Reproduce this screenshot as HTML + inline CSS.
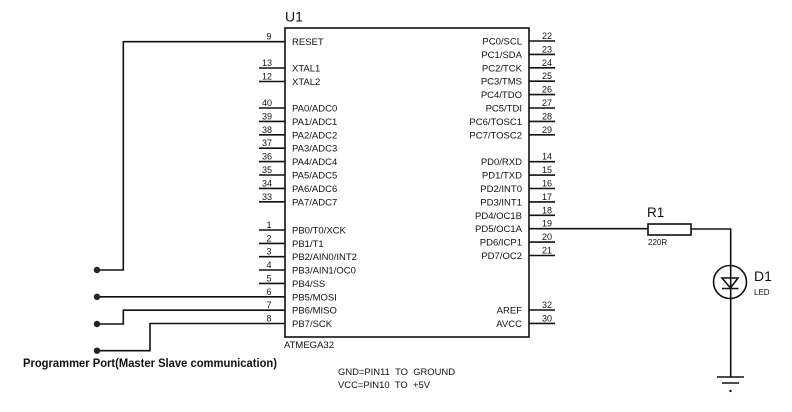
<!DOCTYPE html>
<html><head><meta charset="utf-8"><style>
html,body{margin:0;padding:0;background:#fff;}
svg{display:block;}
text{font-family:"Liberation Sans",Arial,sans-serif;fill:#111;}
.pl{font-size:9.5px;}
.pn{font-size:9px;}
</style></head><body>
<svg width="792" height="412" viewBox="0 0 792 412" xmlns="http://www.w3.org/2000/svg">
<rect width="792" height="412" fill="#fff"/>
<g stroke="#111" stroke-width="1.6" fill="none">
<rect x="285" y="28" width="244" height="309"/>
<line x1="259" y1="68" x2="285" y2="68"/>
<line x1="259" y1="81.5" x2="285" y2="81.5"/>
<line x1="259" y1="108" x2="285" y2="108"/>
<line x1="259" y1="121.4" x2="285" y2="121.4"/>
<line x1="259" y1="134.8" x2="285" y2="134.8"/>
<line x1="259" y1="148.2" x2="285" y2="148.2"/>
<line x1="259" y1="161.6" x2="285" y2="161.6"/>
<line x1="259" y1="175" x2="285" y2="175"/>
<line x1="259" y1="188.4" x2="285" y2="188.4"/>
<line x1="259" y1="201.8" x2="285" y2="201.8"/>
<line x1="259" y1="230" x2="285" y2="230"/>
<line x1="259" y1="243.4" x2="285" y2="243.4"/>
<line x1="259" y1="256.7" x2="285" y2="256.7"/>
<line x1="259" y1="270" x2="285" y2="270"/>
<line x1="259" y1="283.4" x2="285" y2="283.4"/>
<polyline points="285,41.7 123.3,41.7 123.3,270 97,270"/>
<polyline points="285,296.8 97,296.8"/>
<polyline points="285,310.2 123.3,310.2 123.3,324 97,324"/>
<polyline points="285,323.5 150,323.5 150,350.7 97,350.7"/>
<line x1="529" y1="41" x2="555" y2="41"/>
<line x1="529" y1="54.4" x2="555" y2="54.4"/>
<line x1="529" y1="67.8" x2="555" y2="67.8"/>
<line x1="529" y1="81.2" x2="555" y2="81.2"/>
<line x1="529" y1="94.6" x2="555" y2="94.6"/>
<line x1="529" y1="108" x2="555" y2="108"/>
<line x1="529" y1="121.4" x2="555" y2="121.4"/>
<line x1="529" y1="134.8" x2="555" y2="134.8"/>
<line x1="529" y1="161.7" x2="555" y2="161.7"/>
<line x1="529" y1="175.1" x2="555" y2="175.1"/>
<line x1="529" y1="188.5" x2="555" y2="188.5"/>
<line x1="529" y1="201.9" x2="555" y2="201.9"/>
<line x1="529" y1="215.3" x2="555" y2="215.3"/>
<line x1="529" y1="242.1" x2="555" y2="242.1"/>
<line x1="529" y1="255.5" x2="555" y2="255.5"/>
<line x1="529" y1="310" x2="555" y2="310"/>
<line x1="529" y1="323.4" x2="555" y2="323.4"/>
<line x1="529" y1="228.7" x2="648" y2="228.7"/>
<rect x="648" y="224" width="43" height="11"/>
<polyline points="691,229 730.7,229 730.7,265.5"/>
<circle cx="730" cy="282" r="16.5"/>
<line x1="730.7" y1="265.5" x2="730.7" y2="377"/>
<polygon points="722,278 738,278 730.5,288"/>
<line x1="722" y1="288.5" x2="738.5" y2="288.5"/>
<line x1="717" y1="377" x2="744" y2="377"/>
<line x1="722" y1="383" x2="739" y2="383"/>
</g>
<circle cx="730.5" cy="391" r="1.2" fill="#111"/>
<g fill="#1c2a1c">
<circle cx="97" cy="270" r="3.2"/>
<circle cx="97" cy="296.8" r="3.2"/>
<circle cx="97" cy="324" r="3.2"/>
<circle cx="97" cy="350.7" r="3.2"/>
</g>
<text x="285" y="21.5" font-size="14">U1</text>
<text x="284" y="348" font-size="9.5">ATMEGA32</text>
<text x="23" y="367" font-size="11.5" font-weight="bold" textLength="254" lengthAdjust="spacingAndGlyphs">Programmer Port(Master Slave communication)</text>
<text x="338" y="375" font-size="9.5" textLength="117" lengthAdjust="spacingAndGlyphs">GND=PIN11&#160;&#160;TO&#160;&#160;GROUND</text>
<text x="338" y="388" font-size="9.5" textLength="92" lengthAdjust="spacingAndGlyphs">VCC=PIN10&#160;&#160;TO&#160;&#160;+5V</text>
<text x="647" y="217" font-size="13.5">R1</text>
<text x="648" y="245" font-size="8">220R</text>
<text x="754" y="281" font-size="14">D1</text>
<text x="754" y="295" font-size="8">LED</text>
<g class="pl">
<text x="292" y="45.2">RESET</text>
<text x="292" y="71.5">XTAL1</text>
<text x="292" y="85">XTAL2</text>
<text x="292" y="111.5">PA0/ADC0</text>
<text x="292" y="124.9">PA1/ADC1</text>
<text x="292" y="138.3">PA2/ADC2</text>
<text x="292" y="151.7">PA3/ADC3</text>
<text x="292" y="165.1">PA4/ADC4</text>
<text x="292" y="178.5">PA5/ADC5</text>
<text x="292" y="191.9">PA6/ADC6</text>
<text x="292" y="205.3">PA7/ADC7</text>
<text x="292" y="233.5">PB0/T0/XCK</text>
<text x="292" y="246.9">PB1/T1</text>
<text x="292" y="260.2">PB2/AIN0/INT2</text>
<text x="292" y="273.5">PB3/AIN1/OC0</text>
<text x="292" y="286.9">PB4/SS</text>
<text x="292" y="300.3">PB5/MOSI</text>
<text x="292" y="313.7">PB6/MISO</text>
<text x="292" y="327">PB7/SCK</text>
</g>
<g class="pl" text-anchor="end">
<text x="522" y="44.5">PC0/SCL</text>
<text x="522" y="57.9">PC1/SDA</text>
<text x="522" y="71.3">PC2/TCK</text>
<text x="522" y="84.7">PC3/TMS</text>
<text x="522" y="98.1">PC4/TDO</text>
<text x="522" y="111.5">PC5/TDI</text>
<text x="522" y="124.9">PC6/TOSC1</text>
<text x="522" y="138.3">PC7/TOSC2</text>
<text x="522" y="165.2">PD0/RXD</text>
<text x="522" y="178.6">PD1/TXD</text>
<text x="522" y="192">PD2/INT0</text>
<text x="522" y="205.4">PD3/INT1</text>
<text x="522" y="218.8">PD4/OC1B</text>
<text x="522" y="232.2">PD5/OC1A</text>
<text x="522" y="245.6">PD6/ICP1</text>
<text x="522" y="259">PD7/OC2</text>
<text x="522" y="313.5">AREF</text>
<text x="522" y="326.9">AVCC</text>
</g>
<g class="pn" text-anchor="middle">
<text x="269" y="39.5">9</text>
<text x="267" y="66">13</text>
<text x="267" y="79.5">12</text>
<text x="267" y="106">40</text>
<text x="267" y="119.4">39</text>
<text x="267" y="132.8">38</text>
<text x="267" y="146.2">37</text>
<text x="267" y="159.6">36</text>
<text x="267" y="173">35</text>
<text x="267" y="186.4">34</text>
<text x="267" y="199.8">33</text>
<text x="269" y="228">1</text>
<text x="269" y="241.4">2</text>
<text x="269" y="254.7">3</text>
<text x="269" y="268">4</text>
<text x="269" y="281.4">5</text>
<text x="269" y="294.8">6</text>
<text x="269" y="308.2">7</text>
<text x="269" y="321.5">8</text>
</g>
<g class="pn" text-anchor="middle">
<text x="547" y="39">22</text>
<text x="547" y="52.4">23</text>
<text x="547" y="65.8">24</text>
<text x="547" y="79.2">25</text>
<text x="547" y="92.6">26</text>
<text x="547" y="106">27</text>
<text x="547" y="119.4">28</text>
<text x="547" y="132.8">29</text>
<text x="547" y="159.7">14</text>
<text x="547" y="173.1">15</text>
<text x="547" y="186.5">16</text>
<text x="547" y="199.9">17</text>
<text x="547" y="213.3">18</text>
<text x="547" y="226.7">19</text>
<text x="547" y="240.1">20</text>
<text x="547" y="253.5">21</text>
<text x="547" y="308">32</text>
<text x="547" y="321.4">30</text>
</g>
</svg>
</body></html>
